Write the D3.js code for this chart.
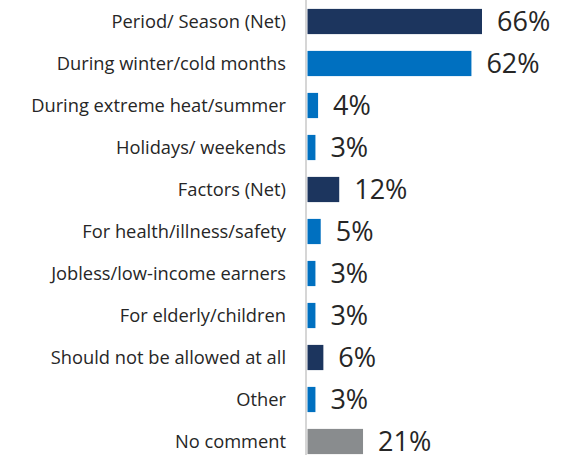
<!DOCTYPE html>
<html><head><meta charset="utf-8">
<script src="https://cdn.jsdelivr.net/npm/d3@7"></script>
<style>body{margin:0;background:#fff}svg{display:block}</style>
</head><body>
<script>
const categories = ["Period/ Season (Net)","During winter/cold months","During extreme heat/summer","Holidays/ weekends","Factors (Net)","For health/illness/safety","Jobless/low-income earners","For elderly/children","Should not be allowed at all","Other","No comment"];
const values = [66,62,4,3,12,5,3,3,6,3,21];
const groups = ["net","sub","sub","sub","net","sub","sub","sub","net","sub","none"];
const colors = {net:"#1C355E", sub:"#0070C0", none:"#898C8E"};

const W=570,H=455;
const svg=d3.select("body").append("svg").attr("width",W).attr("height",H);
const x0=307.5;
const x=d3.scaleLinear().domain([0,66]).range([x0,482]);
const y=d3.scaleBand().domain(categories).range([0.5,462.5]).paddingInner(0.4).paddingOuter(0.2);

svg.append("line").attr("x1",306).attr("x2",306).attr("y1",0).attr("y2",H)
  .attr("stroke","#C8C8C8").attr("stroke-width",1.5);

svg.selectAll("rect.bar").data(categories).join("rect")
  .attr("x",x(0)).attr("y",d=>y(d)).attr("height",y.bandwidth())
  .attr("width",(d,i)=>x(values[i])-x(0)).attr("fill",(d,i)=>colors[groups[i]]);

svg.selectAll("text.cat").data(categories).join("text")
  .attr("x",286).attr("y",d=>y(d)+y.bandwidth()/2).attr("dy","0.37em")
  .attr("text-anchor","end").attr("font-family","Open Sans").attr("font-size",18.3)
  .attr("fill","#262626").text(d=>d);

svg.selectAll("text.val").data(categories).join("text")
  .attr("x",(d,i)=>x(values[i])+15).attr("y",d=>y(d)+y.bandwidth()/2).attr("dy","0.36em")
  .attr("font-family","Open Sans").attr("font-size",27)
  .attr("fill","#262626").text((d,i)=>values[i]+"%");
</script>
</body></html>
